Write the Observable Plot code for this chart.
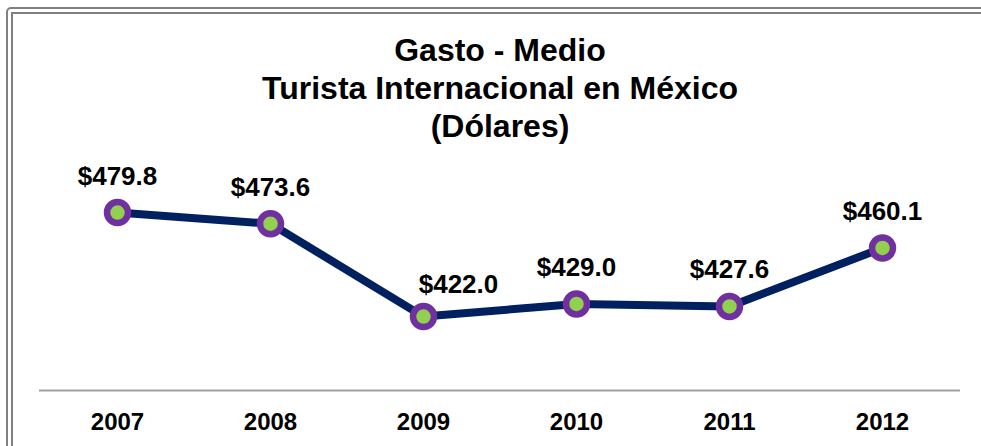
<!DOCTYPE html>
<html>
<head>
<meta charset="utf-8">
<script src="https://cdn.jsdelivr.net/npm/d3@7"></script>
<script src="https://cdn.jsdelivr.net/npm/@observablehq/plot@0.6"></script>
<style>
  html, body { margin: 0; padding: 0; background: #fff; overflow: hidden; }
  body { width: 981px; height: 446px; position: relative; font-family: "Liberation Sans", Arial, sans-serif; }
  .frame { position: absolute; border: 2px solid #808080; width: 1100px; height: 600px; }
  #outer { left: 6px; top: 7px; border-radius: 5px; }
  #inner { left: 11px; top: 12px; }
  #title { position: absolute; left: 19px; width: 962px; top: 31px; text-align: center; font-weight: bold; font-size: 32px; line-height: 38px; color: #000; }
  #chart { position: absolute; left: 0; top: 145px; }
</style>
</head>
<body>
<div class="frame" id="outer"></div>
<div class="frame" id="inner"></div>
<div id="title">Gasto - Medio<br>Turista Internacional en México<br>(Dólares)</div>
<div id="chart"></div>
<script>
const years = ["2007", "2008", "2009", "2010", "2011", "2012"];
const values = [479.8, 473.6, 422.0, 429.0, 427.6, 460.1];
const labels = ["$479.8", "$473.6", "$422.0", "$429.0", "$427.6", "$460.1"];

const data = years.map((y, i) => ({year: y, value: values[i], label: labels[i]}));
const shifted = "2009"; // this label sits to the right of its point in the original

const chart = Plot.plot({
  width: 981,
  height: 301,
  marginLeft: 39,
  marginRight: 21,
  marginTop: 0,
  marginBottom: 56,
  style: {fontFamily: "'Liberation Sans', Arial, sans-serif", color: "#000", background: "transparent"},
  x: {type: "point", domain: years, padding: 0.5, label: null},
  y: {domain: [380.9, 500], range: [245, 30.7], axis: null},
  marks: [
    Plot.ruleY([380.9], {stroke: "#a0a0a0", strokeWidth: 2}),
    Plot.axisX({tickSize: 0, tickPadding: 22, fontSize: 24, fontWeight: "bold", label: null}),
    Plot.line(data, {x: "year", y: "value", stroke: "#002060", strokeWidth: 8, strokeLinejoin: "round"}),
    Plot.dot(data, {x: "year", y: "value", r: 10.5, fill: "#92D050", stroke: "#7030A0", strokeWidth: 6.5}),
    Plot.text(data.filter(d => d.year !== shifted), {x: "year", y: "value", text: "label", lineAnchor: "bottom", dy: -28, fontSize: 26, fontWeight: "bold", fill: "#000"}),
    Plot.text(data.filter(d => d.year === shifted), {x: "year", y: "value", text: "label", lineAnchor: "bottom", dx: 35, dy: -24, fontSize: 26, fontWeight: "bold", fill: "#000"})
  ]
});
document.getElementById("chart").appendChild(chart);
</script>
</body>
</html>
